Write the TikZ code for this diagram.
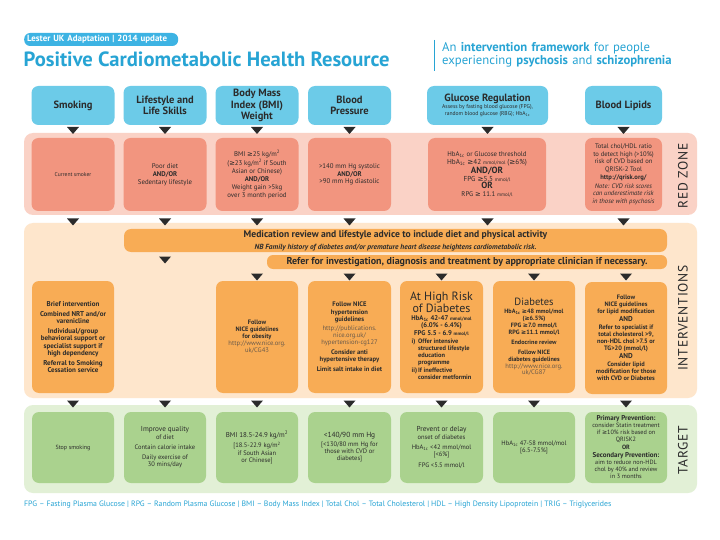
\documentclass[tikz,border=0pt]{standalone}
\usepackage{fontspec}
\setmainfont{PT Sans}
\newfontfamily\symf{DejaVu Sans}
\newfontfamily\bandf[LetterSpace=6]{PT Sans}
\newcommand\GEQ{{\symf\char"2265}}
\newcommand\fs[2]{\fontsize{#1}{#2}\selectfont}
\definecolor{hblue}{HTML}{6CCBE8}
\definecolor{titleblue}{HTML}{27A4D4}
\definecolor{badgec}{HTML}{3DB3E3}
\definecolor{redband}{HTML}{FAD2C6}
\definecolor{redbox}{HTML}{F2957F}
\definecolor{peach}{HTML}{FEE6CC}
\definecolor{ora}{HTML}{F8AC55}
\definecolor{greenband}{HTML}{E2F0D6}
\definecolor{greenbox}{HTML}{AAD28E}
\definecolor{txt}{HTML}{2B2B2B}
\definecolor{urlc}{HTML}{6A5A4A}
\newcommand\tri[2]{\fill[txt] (#1-6,#2) -- (#1+6,#2) -- (#1,#2+7) -- cycle;}
\tikzset{
 hdr/.style={fill=hblue, rounded corners=7pt, align=flush center, text=txt, font=\bfseries\fs{10.5}{11.5}, inner sep=1pt},
 rbx/.style={fill=redbox, rounded corners=7pt, align=flush center, text=txt, font=\fs{6.8}{7.8}, inner sep=1pt},
 obx/.style={fill=ora, rounded corners=7pt, align=flush center, text=txt, font=\bfseries\fs{6.4}{7}, inner sep=1pt},
 gbx/.style={fill=greenbox, rounded corners=7pt, align=flush center, text=txt, font=\fs{6.5}{7.3}, inner sep=1pt},
 band/.style={rounded corners=9pt},
 bandlabel/.style={rotate=90, font=\bandf\fs{13.5}{14}, text=txt},
 plain/.style={inner sep=0pt},
}
\begin{document}
\begin{tikzpicture}[x=1pt,y=-1pt]
\useasboundingbox (0,0) rectangle (720,540);
\fill[white] (0,0) rectangle (720,540);

% ---------- header ----------
\node[fill=badgec, rounded corners=6pt, minimum height=13pt, text width=148pt, align=left, inner xsep=3pt, inner ysep=0pt, anchor=west, text=white, font=\bfseries\fs{8.9}{9}] (badge) at (24,39.5) {Lester UK Adaptation | 2014 update};
\node[plain, anchor=west, text=titleblue, font=\bfseries\fs{20.6}{21}] (title) at (23.5,59.5) {Positive Cardiometabolic Health Resource};
\coordinate (d1) at (434,40);
\coordinate (d2) at (434,71);
\draw[titleblue, line width=0.8pt] (d1) -- (d2);
\node[plain, anchor=north west, align=left, text width=270pt, text=titleblue, font=\fs{12.7}{13.4}] (sub) at (442,42) {An \textbf{intervention framework} for people\\experiencing \textbf{psychosis} and \textbf{schizophrenia}};

% ---------- bands ----------
\fill[band, redband] (24,133) rectangle (697,215);
\fill[band, peach] (24,223) rectangle (697,398);
\fill[band, greenband] (24,405) rectangle (697,493);
\node[bandlabel] (lred) at (683,176) {RED ZONE};
\node[bandlabel] (lint) at (683,318) {INTERVENTIONS};
\node[bandlabel] (ltar) at (683,450) {TARGET};

% ---------- header boxes ----------
\node[hdr, text width=81pt, minimum height=39pt] (h1) at (73,105.5) {Smoking};
\node[hdr, text width=81pt, minimum height=39pt] (h2) at (165,105.5) {Lifestyle and\\Life Skills};
\node[hdr, text width=81pt, minimum height=39pt] (h3) at (257,105.5) {Body Mass\\Index (BMI)\\Weight};
\node[hdr, text width=81pt, minimum height=39pt] (h4) at (349.5,105.5) {Blood\\Pressure};
\node[hdr, text width=119pt, minimum height=39pt] (h5) at (487.5,105.5) {Glucose Regulation\par\vspace{0.5pt}{\mdseries\fs{5.6}{6.4}Assess by fasting blood glucose (FPG),\\random blood glucose (RBG); HbA\textsubscript{1c}\par}};
\node[hdr, text width=75pt, minimum height=39pt] (h6) at (623.5,105.5) {Blood Lipids};
\foreach \x in {73,165,257,349.5,487.5,623.5} {\tri{\x}{127}}

% ---------- red zone ----------
\node[rbx, text width=81pt, minimum height=73pt, font=\fs{5.6}{6.5}] (r1) at (73,174.5) {Current smoker};
\node[rbx, text width=81pt, minimum height=73pt] (r2) at (165,174.5) {Poor diet\\\textbf{AND/OR}\\Sedentary lifestyle};
\node[rbx, text width=81pt, minimum height=73pt] (r3) at (257,174.5) {BMI \GEQ25 kg/m\textsuperscript{2}\\(\GEQ23 kg/m\textsuperscript{2} if South\\Asian or Chinese)\\\textbf{AND/OR}\\Weight gain >5kg\\over 3 month period};
\node[rbx, text width=81pt, minimum height=73pt] (r4) at (349.5,174.5) {>140 mm Hg systolic\\\textbf{AND/OR}\\>90 mm Hg diastolic};
\node[rbx, text width=116pt, minimum height=73pt] (r5) at (487,174.5) {HbA\textsubscript{1c} or Glucose threshold\\{\fs{7.2}{8}HbA\textsubscript{1c} \GEQ42 {\fs{5}{5}mmol/mol} (\GEQ6\%)}\\{\bfseries\fs{9}{9.5}AND/OR}\\{\fs{7.2}{8}FPG \GEQ5.5 {\fs{5}{5}mmol/l}}\\{\bfseries\fs{9}{9.5}OR}\\{\fs{6.8}{7.5}RPG \GEQ\ 11.1 {\fs{5}{5}mmol/l}}};
\node[rbx, text width=75pt, minimum height=73pt, font=\fs{6.6}{7.5}] (r6) at (623.5,174.5) {Total chol/HDL ratio\\to detect high (>10\%)\\risk of CVD based on\\QRISK-2 Tool\\[1pt]\textbf{http://qrisk.org/}\\[1pt]\textit{Note: CVD risk scores}\\\textit{can underestimate risk}\\\textit{in those with psychosis}};
\foreach \x in {73,165,257,349.5,487.5,623.5} {\tri{\x}{218.5}}

% ---------- intervention bars ----------
\node[fill=ora, rounded corners=7pt, text width=543pt, minimum height=23pt, align=flush center, text=txt, inner sep=0pt] (bar1) at (395.5,240.5) {{\bfseries\fs{9.6}{10}Medication review and lifestyle advice to include diet and physical activity}\\{\bfseries\itshape\fs{7.4}{8}NB Family history of diabetes and/or premature heart disease heightens cardiometabolic risk.}};
\node[fill=ora, rounded corners=6pt, minimum width=400pt, minimum height=14pt, text=txt, inner sep=0pt, font=\bfseries\fs{10}{10}] (bar2) at (467,262) {Refer for investigation, diagnosis and treatment by appropriate clinician if necessary.};
\tri{165}{256.5}
\foreach \x in {257,349.5,441.5,534,626} {\tri{\x}{273.5}}

% ---------- intervention boxes ----------
\node[obx, text width=80pt, minimum height=112pt, font=\bfseries\fs{7}{7.2}] (i1) at (73,337) {Brief intervention\\[3pt]Combined NRT and/or\\varenicline\\[3pt]Individual/group\\behavioral support or\\specialist support if\\high dependency\\[3pt]Referral to Smoking\\Cessation service};
\node[obx, text width=80pt, minimum height=112pt] (i3) at (257,337) {Follow\\NICE guidelines\\for obesity\\{\mdseries\fs{6.6}{7}\color{urlc}http://www.nice.org.\\uk/CG43}};
\node[obx, text width=81pt, minimum height=112pt, font=\bfseries\fs{6.6}{7.1}] (i4) at (349.5,337) {Follow NICE\\hypertension\\guidelines\\[2pt]{\mdseries\color{urlc}http://publications.\\nice.org.uk/\\hypertension-cg127}\\[3pt]Consider anti\\hypertensive therapy\\[3pt]Limit salt intake in diet};
\node[obx, text width=81pt, minimum height=112pt] (i5) at (441.5,337) {{\mdseries\fs{12}{11.5}At High Risk\\of Diabetes}\\[1pt]{\fs{6.8}{7}HbA\textsubscript{1c} 42-47 {\fs{4.8}{5}mmol/mol}}\\{\fs{6.8}{7}(6.0\% - 6.4\%)}\\[1pt]{\fs{6.8}{7}FPG 5.5 - 6.9 {\fs{4.8}{5}mmol/l}}\\[1pt]\begin{tabular}{@{}l@{\,}l@{}}i)&Offer intensive\\&structured lifestyle\\&education\\&programme\\[1pt]ii)&If ineffective\\&consider metformin\end{tabular}};
\node[obx, text width=80pt, minimum height=112pt, font=\bfseries\fs{6.2}{6.8}] (i6) at (534,337) {{\mdseries\fs{10.5}{11}Diabetes}\\[1pt]HbA\textsubscript{1c} \GEQ48 mmol/mol\\(\GEQ6.5\%)\\[1pt]FPG \GEQ7.0 mmol/l\\RPG \GEQ11.1 mmol/l\\[3pt]Endocrine review\\[3pt]Follow NICE\\diabetes guidelines\\{\mdseries\fs{6.6}{7}\color{urlc}http://www.nice.org.\\uk/CG87}};
\node[obx, text width=80pt, minimum height=112pt] (i7) at (626,338) {Follow\\NICE guidelines\\for lipid modification\\[1pt]{\fs{7.2}{8}AND}\\[1pt]Refer to specialist if\\total cholesterol >9,\\non-HDL chol >7.5 or\\TG>20 (mmol/l)\\[1pt]{\fs{7.2}{8}AND}\\[1pt]Consider lipid\\modification for those\\with CVD or Diabetes};
\foreach \x in {73,165,257,349.5,441.5,534,626} {\tri{\x}{400.5}}

% ---------- target boxes ----------
\node[gbx, text width=80pt, minimum height=71pt, font=\fs{6}{7}] (g1) at (73,447.5) {Stop smoking};
\node[gbx, text width=80pt, minimum height=71pt] (g2) at (165,447.5) {{\fs{7.2}{7}Improve quality}\\of diet\\[3pt]Contain calorie intake\\[3pt]Daily exercise of\\30 mins/day};
\node[gbx, text width=80pt, minimum height=71pt] (g3) at (257,447.5) {{\fs{7}{8}BMI 18.5-24.9 kg/m\textsuperscript{2}}\\[3pt]{[}18.5-22.9 kg/m\textsuperscript{2}\\if South Asian\\or Chinese{]}};
\node[gbx, text width=81pt, minimum height=71pt] (g4) at (349.5,447.5) {{\fs{7.4}{8}<140/90 mm Hg}\\[1pt]{[}<130/80 mm Hg for\\those with CVD or\\diabetes{]}};
\node[gbx, text width=81pt, minimum height=71pt] (g5) at (441.5,447.5) {{\fs{7.2}{7.5}Prevent or delay}\\onset of diabetes\\[3pt]HbA\textsubscript{1c} <42 mmol/mol\\{[}<6\%{]}\\[3pt]FPG <5.5 mmol/l};
\node[gbx, text width=80pt, minimum height=71pt] (g6) at (534,447.5) {HbA\textsubscript{1c} 47-58 mmol/mol\\{[}6.5-7.5\%{]}};
\node[gbx, text width=80pt, minimum height=71pt, font=\fs{6.2}{7}] (g7) at (626,447.5) {{\bfseries\fs{7}{7.5}Primary Prevention:}\\consider Statin treatment\\if \GEQ10\% risk based on\\QRISK2\\[1pt]{\bfseries OR}\\[1pt]{\bfseries\fs{7}{7.5}Secondary Prevention:}\\aim to reduce non-HDL\\chol by 40\% and review\\in 3 months};

% ---------- footer ----------
\node[plain, anchor=west, text=titleblue, font=\fs{7.8}{8}] (foot) at (24,505) {FPG -- Fasting Plasma Glucose | RPG -- Random Plasma Glucose | BMI -- Body Mass Index | Total Chol -- Total Cholesterol | HDL -- High Density Lipoprotein | TRIG -- Triglycerides};
\end{tikzpicture}
\end{document}
